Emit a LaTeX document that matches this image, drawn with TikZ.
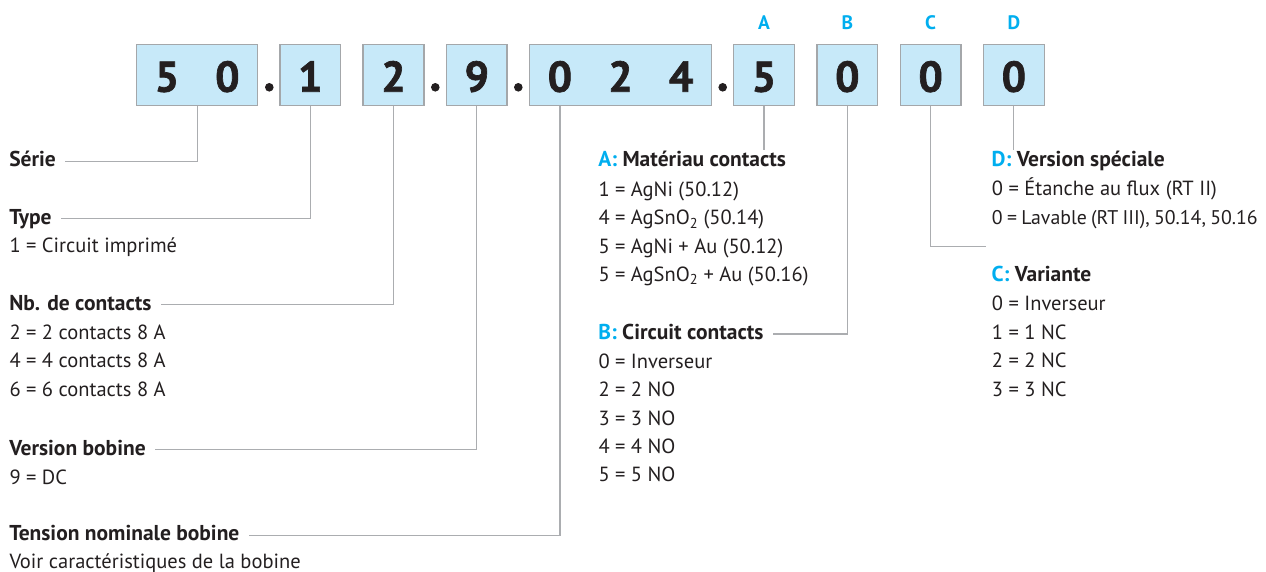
\documentclass[tikz,border=0pt]{standalone}
\usepackage{fontspec}
\setmainfont{PT Sans}
\newfontfamily\digitfont[BoldFeatures={FakeBold=1.5}]{PT Sans}
\definecolor{ink}{HTML}{231F20}
\definecolor{cyanl}{HTML}{00AEEF}
\definecolor{boxfill}{HTML}{C7E9F9}
\definecolor{boxline}{HTML}{A4A7AA}
\definecolor{connline}{HTML}{ABADB0}
\tikzset{
  box/.style={draw=boxline, line width=1.4pt, fill=boxfill, minimum height=61pt, inner sep=0pt},
  digit/.style={anchor=base, inner sep=0pt, text=ink, font=\fontsize{43}{43}\digitfont\bfseries},
  letter/.style={anchor=base, inner sep=0pt, text=cyanl, font=\fontsize{19.5}{19.5}\selectfont\bfseries},
  dotp/.style={circle, fill=ink, minimum size=8.6pt, inner sep=0pt},
  head/.style={anchor=base west, xshift=-9.5pt, inner sep=0pt, outer xsep=9.5pt, outer ysep=2.5pt, text height=14pt, text depth=3pt, text=ink, font=\fontsize{21.5}{22}\selectfont\bfseries},
  item/.style={anchor=base west, inner sep=0pt, text=ink, font=\fontsize{20.5}{22}\selectfont},
  conn/.style={draw=connline, line width=1.2pt},
}
\newcommand{\lt}[1]{\textcolor{cyanl}{#1}}
\begin{document}
\begin{tikzpicture}[x=1pt, y=-1pt]
\useasboundingbox (0,0) rectangle (1266,572);
% boxes
\node[box, minimum width=121pt]   (b50)  at (197.2,74.8) {};
\node[box, minimum width=60.7pt]  (b1)   at (310.35,74.8) {};
\node[box, minimum width=60.7pt]  (b2)   at (393.5,74.8) {};
\node[box, minimum width=60.7pt]  (b9)   at (476.8,74.8) {};
\node[box, minimum width=182.4pt] (b024) at (620.5,74.8) {};
\node[box, minimum width=60.7pt]  (bA)   at (764,74.8) {};
\node[box, minimum width=60.7pt]  (bB)   at (847.35,74.8) {};
\node[box, minimum width=60.7pt]  (bC)   at (930.65,74.8) {};
\node[box, minimum width=60.7pt]  (bD)   at (1013.85,74.8) {};
% digits
\node[digit] (d5a) at (167,91.7) {5};
\node[digit] (d0a) at (227.4,91.7) {0};
\node[digit] (d1)  at (310.35,91.7) {1};
\node[digit] (d2)  at (393.5,91.7) {2};
\node[digit] (d9)  at (476.8,91.7) {9};
\node[digit] (d0b) at (559.9,91.7) {0};
\node[digit] (d2b) at (620.5,91.7) {2};
\node[digit] (d4b) at (681.1,91.7) {4};
\node[digit] (dA)  at (764,91.7) {5};
\node[digit] (dB)  at (847.35,91.7) {0};
\node[digit] (dC)  at (930.65,91.7) {0};
\node[digit] (dD)  at (1013.85,91.7) {0};
% dots
\node[dotp] (p1) at (269.3,87.3) {};
\node[dotp] (p2) at (435.3,87.3) {};
\node[dotp] (p3) at (518.3,87.3) {};
\node[dotp] (p4) at (722.7,87.3) {};
% letters
\node[letter] (lA) at (764,30) {A};
\node[letter] (lB) at (847.35,30) {B};
\node[letter] (lC) at (930.65,30) {C};
\node[letter] (lD) at (1013.85,30) {D};
% left column
\node[head] (serie) at (9.3,166.7) {Série};
\node[head] (type) at (9.3,224.3) {Type};
\node[item] (type1) at (9.3,252) {1 = Circuit imprimé};
\node[head] (nb) at (9.3,310) {Nb. de contacts};
\node[item] (nb1) at (9.3,339.3) {2 = 2 contacts 8 A};
\node[item] (nb2) at (9.3,367.7) {4 = 4 contacts 8 A};
\node[item] (nb3) at (9.3,396) {6 = 6 contacts 8 A};
\node[head] (vb) at (9.3,455) {Version bobine};
\node[item] (vb1) at (9.3,484) {9 = DC};
\node[head] (tn) at (9.3,540.7) {Tension nominale bobine};
\node[item] (tn1) at (9.3,568.5) {Voir caractéristiques de la bobine};
% middle column
\node[head] (hA) at (598.3,166.7) {\lt{A:} Matériau contacts};
\node[item] (a1) at (598.3,196.7) {1 = AgNi (50.12)};
\node[item] (a2) at (598.3,225) {4 = AgSnO\textsubscript{2} (50.14)};
\node[item] (a3) at (598.3,253.3) {5 = AgNi + Au (50.12)};
\node[item] (a4) at (598.3,281.7) {5 = AgSnO\textsubscript{2} + Au (50.16)};
\node[head] (hB) at (598.3,339.5) {\lt{B:} Circuit contacts};
\node[item] (bb1) at (598.3,368.3) {0 = Inverseur};
\node[item] (bb2) at (598.3,396.7) {2 = 2 NO};
\node[item] (bb3) at (598.3,425) {3 = 3 NO};
\node[item] (bb4) at (598.3,453.3) {4 = 4 NO};
\node[item] (bb5) at (598.3,481.7) {5 = 5 NO};
% right column
\node[head] (hD) at (991.7,166.7) {\lt{D:} Version spéciale};
\node[item] (dd1) at (991.7,196) {0 = Étanche au flux (RT II)};
\node[item, font=\fontsize{19.8}{22}\selectfont] (dd2) at (991.7,224.3) {\spaceskip=4.3pt plus 1pt minus 1pt 0 = Lavable (RT III), 50.14, 50.16};
\node[head] (hC) at (991.7,281.7) {\lt{C:} Variante};
\node[item] (cc1) at (991.7,310.7) {0 = Inverseur};
\node[item] (cc2) at (991.7,339) {1 = 1 NC};
\node[item] (cc3) at (991.7,367.3) {2 = 2 NC};
\node[item] (cc4) at (991.7,396) {3 = 3 NC};
\coordinate (cEnd) at (985.7,246.7);
% connectors
\draw[conn] (b50.south) |- (serie.east);
\draw[conn] (b1.south) |- (type.east);
\draw[conn] (b2.south) |- (nb.east);
\draw[conn] (b9.south) |- (vb.east);
\draw[conn] (d0b |- b024.south) |- (tn.east);
\draw[conn] (bA.south) -- (bA.south |- hA.north);
\draw[conn] (bB.south) |- (hB.east);
\draw[conn] (bC.south) |- (cEnd);
\draw[conn] (bD.south) -- (bD.south |- hD.north);
\end{tikzpicture}
\end{document}
